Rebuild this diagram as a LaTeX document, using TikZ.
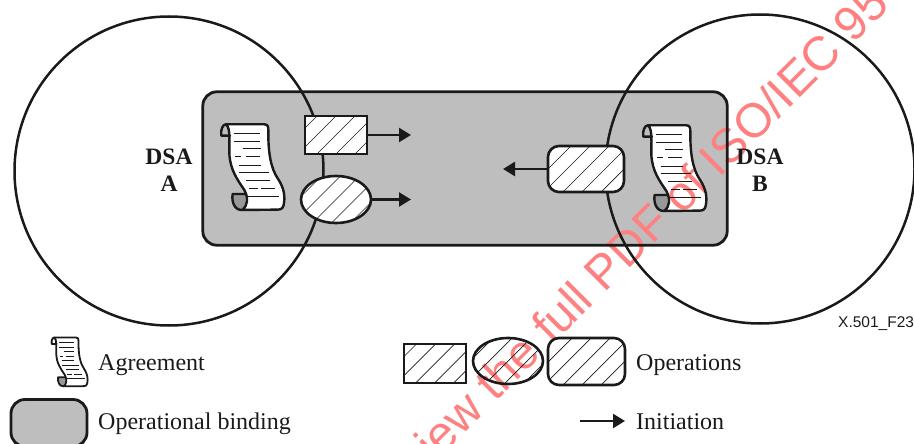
\documentclass[tikz,border=0pt]{standalone}
\usepackage{fontspec}
\setmainfont{Liberation Serif}
\setsansfont{Liberation Sans}
\usetikzlibrary{arrows.meta,shapes.geometric,calc}
\definecolor{ink}{HTML}{1A1A1A}
\definecolor{bindgray}{HTML}{BEBEBE}
\definecolor{wmark}{HTML}{FF8080}
\tikzset{
  x=1pt,y=-1pt,
  hatched/.style={path picture={
    \foreach \i in {-114,-95,...,114}
      \draw[ink,line width=0.7pt] ($(path picture bounding box.center)+(\i-60,60)$) -- ++(120,-120);}},
  oprect/.style={rectangle,draw=ink,fill=white,line width=2.6pt,inner sep=0pt,hatched},
  opellipse/.style={ellipse,draw=ink,fill=white,line width=2.6pt,inner sep=0pt,hatched},
  opround/.style={rectangle,rounded corners=11pt,draw=ink,fill=white,line width=2.6pt,inner sep=0pt,hatched},
  bindfill/.style={rectangle,fill=bindgray,inner sep=0pt,rounded corners=14pt},
  bindline/.style={draw=ink,line width=2.8pt,rounded corners=14pt},
  dsacircle/.style={circle,draw=ink,line width=2.5pt,inner sep=0pt,minimum size=309pt},
  initarrow/.style={draw=ink,fill=ink,line width=2.4pt,-{Triangle[length=12pt,width=14pt]}},
  dsalabel/.style={text=ink,font=\fontsize{23.5}{26}\selectfont\bfseries,inner sep=0pt},
  legendtext/.style={text=ink,font=\fontsize{24}{26}\selectfont,anchor=base west,inner sep=0pt},
  scrollfill/.pic={
    \begin{scope}[shift={(-65,-103)}]
      \fill[white] (80,103) -- (195,103) .. controls (205,103) and (207,110) .. (207,120)
        .. controls (206,190) and (215,235) .. (235,265) .. controls (255,295) and (258,320) .. (253,345)
        .. controls (251,355) and (245,359) .. (235,359) -- (130,360)
        .. controls (145,345) and (148,325) .. (135,300) .. controls (115,270) and (92,240) .. (90,190)
        .. controls (89,160) and (95,115) .. (80,103) -- cycle;
    \end{scope}
  },
  scrollpic/.pic={
    \begin{scope}[shift={(-65,-103)},draw=ink,line join=round,line cap=round]
      \fill[bindgray!80!black] (140,312) -- (100,312) .. controls (96,335) and (105,362) .. (130,360) .. controls (142,345) and (145,325) .. (140,312) -- cycle;
      \draw (80,103) -- (195,103) .. controls (205,103) and (207,110) .. (207,120)
        .. controls (206,190) and (215,235) .. (235,265) .. controls (255,295) and (258,320) .. (253,345)
        .. controls (251,355) and (245,359) .. (235,359) -- (130,360)
        .. controls (145,345) and (148,325) .. (135,300) .. controls (115,270) and (92,240) .. (90,190)
        .. controls (89,160) and (95,115) .. (80,103) -- cycle;
      \draw (80,103) .. controls (70,103) and (63,120) .. (66,137) -- (92,137);
      \draw (140,312) -- (100,312) .. controls (96,335) and (105,362) .. (130,360);
      \begin{scope}[line width=0.55*\pgflinewidth,line cap=butt]
        \draw (105,130) -- (183,130);
        \draw (105,153) -- (183,153);
        \draw (130,175) -- (185,175);
        \draw (108,200) -- (125,200);
        \draw (140,200) -- (183,200);
        \draw (118,225) -- (185,225);
        \draw (118,248) -- (210,248);
        \draw (140,270) -- (212,270);
        \draw (148,296) -- (175,296);
        \draw (185,296) -- (227,296);
        \draw (145,320) -- (240,320);
      \end{scope}
    \end{scope}
  }
}
\begin{document}
\begin{tikzpicture}
\useasboundingbox (0,0) rectangle (914,444);
\begin{scope}
\clip (0,0) rectangle (914,444);
% fills that lie under the watermark
\node[bindfill,minimum width=524pt,minimum height=153pt] (bind) at (465,168.5) {};
\pic[scale=1/3] at (643,125.3) {scrollfill};
\fill[white] (508,361) ellipse [x radius=35,y radius=23];
% watermark
\node[rotate=45,anchor=base west,inner sep=0pt,text=wmark,font=\sffamily\fontsize{48}{52}\selectfont] (wm) at (435,463) {iew the full PDF of ISO/IEC 95};
% main binding outline and DSA circles
\draw[bindline] (bind.north west) rectangle (bind.south east);
\node[dsacircle] (dsaA) at (169,171) {};
\node[dsacircle] (dsaB) at (760,169) {};
\node[dsalabel] (lblA1) at (169,157) {DSA};
\node[dsalabel] (lblA2) at (169,184) {A};
\node[dsalabel] (lblB1) at (760,157) {DSA};
\node[dsalabel] (lblB2) at (760,184) {B};
% agreements
\pic[scale=1/3] at (221,124.3) {scrollfill};
\pic[line width=2.4pt,scale=1/3] at (221,124.3) {scrollpic};
\pic[line width=2.4pt,scale=1/3] at (643,125.3) {scrollpic};
% operations
\node[oprect,minimum width=62pt,minimum height=38pt] (opA) at (336,135) {};
\node[opellipse,minimum width=70pt,minimum height=47pt] (opB) at (336,199.5) {};
\node[opround,minimum width=76pt,minimum height=46pt] (opC) at (586,169) {};
\coordinate (tipA) at (411,135);
\coordinate (tipB) at (411,199.5);
\coordinate (tipC) at (503,169);
\draw[initarrow] (opA.east) -- (tipA);
\draw[initarrow] (opB.east) -- (tipB);
\draw[initarrow] (opC.west) -- (tipC);
% caption
\node[anchor=base west,inner sep=0pt,text=ink,font=\sffamily\fontsize{15.5}{17}\selectfont] (figid) at (838,327) {X.501\_F23};
% legend
\pic[scale=0.19] at (51.5,337.5) {scrollfill};
\pic[line width=1.8pt,scale=0.19] at (51.5,337.5) {scrollpic};
\node[legendtext] (lgAgr) at (98,370) {Agreement};
\node[bindfill,draw=ink,line width=2.8pt,minimum width=76pt,minimum height=47pt] (lgBind) at (49,423) {};
\node[legendtext] (lgBindT) at (98,429) {Operational binding};
\node[oprect,minimum width=62pt,minimum height=39pt] (lgA) at (435,363.5) {};
\node[opellipse,fill=none,minimum width=70pt,minimum height=46pt] (lgB) at (508,361) {};
\node[opround,minimum width=77pt,minimum height=47pt] (lgC) at (586.5,361.5) {};
\node[legendtext] (lgOps) at (636,370) {Operations};
\coordinate (lgStart) at (580,421);
\coordinate (lgTip) at (625,421);
\draw[initarrow] (lgStart) -- (lgTip);
\node[legendtext] (lgInit) at (636,429) {Initiation};
\end{scope}
\end{tikzpicture}
\end{document}
